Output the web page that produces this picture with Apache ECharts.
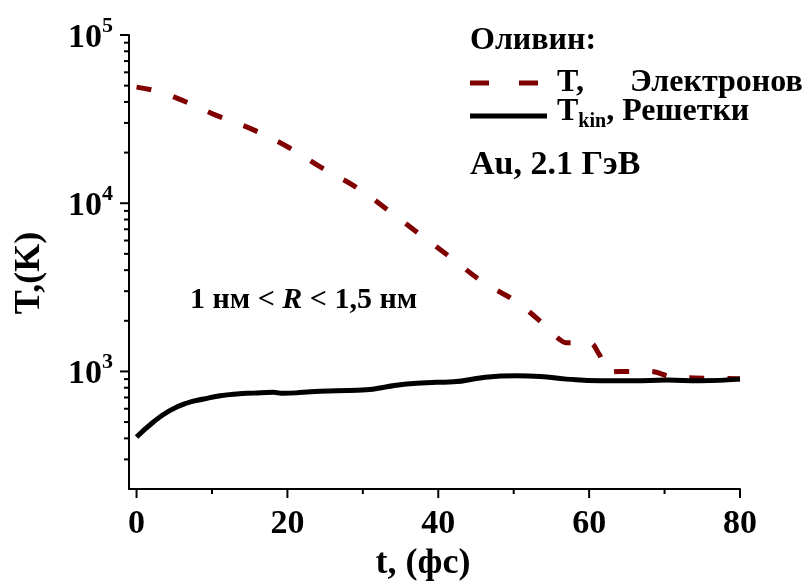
<!DOCTYPE html>
<html><head><meta charset="utf-8">
<script src="https://cdn.jsdelivr.net/npm/echarts@6/dist/echarts.min.js"></script>
<style>html,body{margin:0;padding:0;background:#fff}#c{width:808px;height:584px}</style>
</head><body><div id="c"></div>
<script>
// Electron temperature (dashed)
const electronT   = [0, 3, 6, 10.5, 15.5, 20.3, 24.7, 29.3, 33.6, 37.7, 41.9, 45.9, 50.2, 54, 56, 57, 60, 61.3, 62.6, 64, 68, 71, 74, 80];
const electronVal = [49000, 46000, 41000, 33400, 27300, 21300, 16100, 12300, 8900, 6460, 4660, 3400, 2620, 1900, 1560, 1480, 1480, 1270, 990, 1000, 1000, 930, 915, 905];
// Lattice kinetic temperature (solid)
const latticeT   = [0, 2.2, 4.4, 6.7, 8.9, 11.1, 13.3, 15.5, 18.1, 19.5, 22.1, 24.3, 26.5, 30.5, 33.2, 35.8, 39.8, 42, 46, 50.4, 53.5, 57, 61.5, 65.8, 70.3, 74.7, 80];
const latticeVal = [408, 499, 585, 649, 685, 717, 735, 743, 751, 741, 751, 762, 767, 778, 811, 841, 861, 867, 921, 942, 934, 900, 880, 880, 888, 880, 900];
// Ticks
const xTickValues = [0, 20, 40, 60, 80];
const xMinorTickValues = [10, 30, 50, 70];
const yTickValues = [1e3, 1e4, 1e5];
const yMinorTickValues = [300, 400, 500, 600, 700, 800, 900, 2000, 3000, 4000, 5000, 6000, 7000, 8000, 9000, 20000, 30000, 40000, 50000, 60000, 70000, 80000, 90000];

const FF = '"Liberation Serif", "Times New Roman", serif';
const chart = echarts.init(document.getElementById('c'));

function xTicks(vals, len) {
  return {
    type: 'custom', silent: true, clip: false, z: 10,
    data: vals.map(v => [v, 1000]),
    encode: {x: 0, y: 1},
    renderItem(params, api) {
      const cs = params.coordSys;
      const px = api.coord([api.value(0), 1000])[0];
      const y0 = cs.y + cs.height;
      return {type: 'line', shape: {x1: px, y1: y0, x2: px, y2: y0 + len}, style: {stroke: '#000', lineWidth: 2}};
    }
  };
}
function yTicks(vals, len) {
  return {
    type: 'custom', silent: true, clip: false, z: 10,
    data: vals.map(v => [0, v]),
    encode: {x: 0, y: 1},
    renderItem(params, api) {
      const cs = params.coordSys;
      const py = api.coord([0, api.value(1)])[1];
      return {type: 'line', shape: {x1: cs.x, y1: py, x2: cs.x - len, y2: py}, style: {stroke: '#000', lineWidth: 2}};
    }
  };
}

const option = {
  animation: false,
  backgroundColor: '#fff',
  grid: {left: 129, top: 35, right: 68, bottom: 95, containLabel: false, outerBoundsMode: 'none'},
  xAxis: {
    type: 'value', min: -1, max: 80,
    axisLine: {show: true, onZero: false, lineStyle: {color: '#000', width: 2}},
    axisTick: {show: false},
    splitLine: {show: false},
    axisLabel: {
      margin: 18, color: '#000', fontFamily: FF, fontWeight: 'bold', fontSize: 34,
      formatter: v => (xTickValues.indexOf(v) >= 0 ? String(v) : '')
    }
  },
  yAxis: {
    type: 'log', logBase: 10, min: 200, max: 100000,
    axisLine: {show: true, onZero: false, lineStyle: {color: '#000', width: 2}},
    axisTick: {show: false},
    splitLine: {show: false},
    axisLabel: {
      margin: 16,
      formatter: v => {
        const e = Math.round(Math.log10(v));
        if (Math.abs(Math.log10(v) - e) > 1e-6) return '';
        return '{b|10}{s|' + e + '}';
      },
      rich: {
        b: {fontFamily: FF, fontWeight: 'bold', fontSize: 34, color: '#000', lineHeight: 40, verticalAlign: 'bottom'},
        s: {fontFamily: FF, fontWeight: 'bold', fontSize: 22, color: '#000', verticalAlign: 'top'}
      }
    }
  },
  series: [
    {
      type: 'line', name: 'electron', data: electronT.map((t, i) => [t, electronVal[i]]),
      showSymbol: false, symbol: 'none', smooth: 0.4,
      lineStyle: {color: '#800000', width: 5, type: [15, 23]}, z: 3
    },
    {
      type: 'line', name: 'lattice', data: latticeT.map((t, i) => [t, latticeVal[i]]),
      showSymbol: false, symbol: 'none', smooth: 0.5,
      lineStyle: {color: '#000', width: 5}, z: 4
    },
    xTicks(xTickValues, 9),
    xTicks(xMinorTickValues, 5),
    yTicks(yTickValues, 9),
    yTicks(yMinorTickValues, 5)
  ],
  graphic: [
    {type: 'text', x: 30, y: 273, rotation: Math.PI / 2, style: {text: 'T,(K)', fontFamily: FF, fontWeight: 'bold', fontSize: 36, fill: '#000', align: 'center', verticalAlign: 'middle'}},
    {type: 'text', x: 423, y: 564, style: {text: 't, (фс)', fontFamily: FF, fontWeight: 'bold', fontSize: 36, fill: '#000', align: 'center', verticalAlign: 'middle'}},
    {type: 'text', left: 470, top: 25, style: {text: 'Оливин:', fontFamily: FF, fontWeight: 'bold', fontSize: 32, fill: '#000'}},
    {type: 'line', shape: {x1: 470, y1: 83, x2: 540, y2: 83}, style: {stroke: '#800000', lineWidth: 5, lineDash: [19, 30]}},
    {type: 'text', left: 557, top: 67, style: {text: 'T,', fontFamily: FF, fontWeight: 'bold', fontSize: 32, fill: '#000'}},
    {type: 'text', left: 630, top: 67, style: {text: 'Электронов', fontFamily: FF, fontWeight: 'bold', fontSize: 32, fill: '#000'}},
    {type: 'line', shape: {x1: 470, y1: 116, x2: 547, y2: 116}, style: {stroke: '#000', lineWidth: 5}},
    {type: 'text', left: 557, top: 96, style: {
      text: '{a|T}{s|kin}{a|, Решетки}',
      rich: {
        a: {fontFamily: FF, fontWeight: 'bold', fontSize: 32, fill: '#000', verticalAlign: 'top', lineHeight: 36},
        s: {fontFamily: FF, fontWeight: 'bold', fontSize: 20, fill: '#000', verticalAlign: 'bottom'}
      }
    }},
    {type: 'text', left: 470, top: 148, style: {text: 'Au, 2.1 ГэВ', fontFamily: FF, fontWeight: 'bold', fontSize: 34, fill: '#000'}},
    {type: 'text', left: 190, top: 285, style: {
      text: '{n|1 нм < }{i|R}{n| < 1,5 нм}',
      rich: {
        n: {fontFamily: FF, fontWeight: 'bold', fontSize: 30, fill: '#000'},
        i: {fontFamily: FF, fontWeight: 'bold', fontStyle: 'italic', fontSize: 30, fill: '#000'}
      }
    }}
  ]
};
chart.setOption(option);
</script>
</body></html>
